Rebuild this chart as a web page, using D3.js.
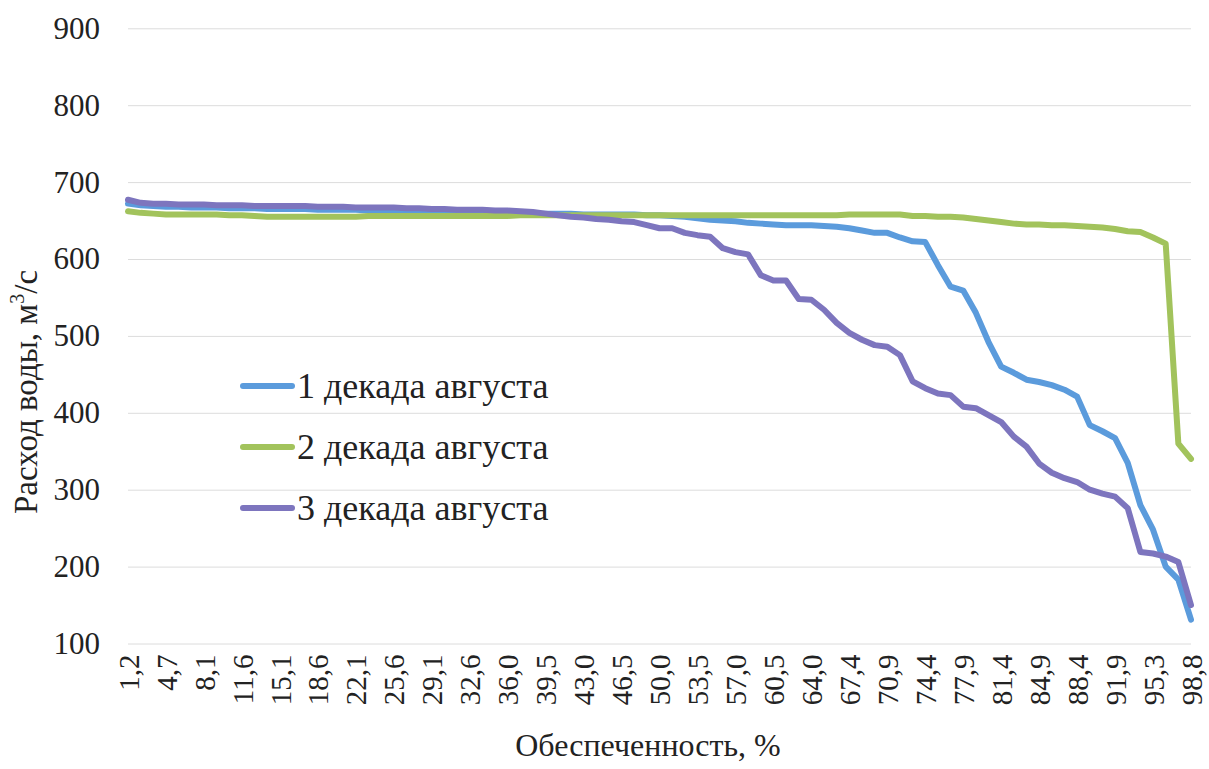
<!DOCTYPE html>
<html lang="ru">
<head>
<meta charset="UTF-8" />
<title>Расход воды</title>
<script src="https://d3js.org/d3.v7.min.js"></script>
<style>
  body { margin: 0; background: #fff; }
  .grid line { stroke: #dcdcdc; stroke-width: 1; }
</style>
</head>
<body>
<svg width="1209" height="769"></svg>
<script>
// категории: обеспеченность, %
const categories = ["1,2","2,3","3,5","4,7","5,8","7,0","8,1","9,3","10,5","11,6","12,8","14,0","15,1","16,3","17,4","18,6","19,8","20,9","22,1","23,3","24,4","25,6","26,7","27,9","29,1","30,2","31,4","32,6","33,7","34,9","36,0","37,2","38,4","39,5","40,7","41,9","43,0","44,2","45,3","46,5","47,7","48,8","50,0","51,2","52,3","53,5","54,7","55,8","57,0","58,1","59,3","60,5","61,6","62,8","64,0","65,1","66,3","67,4","68,6","69,8","70,9","72,1","73,3","74,4","75,6","76,7","77,9","79,1","80,2","81,4","82,6","83,7","84,9","86,0","87,2","88,4","89,5","90,7","91,9","93,0","94,2","95,3","96,5","97,7","98,8"];

// 1 декада августа
const dek1 = [672,670,669,668,668,667,667,667,666,666,666,665,665,665,665,664,664,664,664,663,663,663,663,662,662,662,661,661,661,660,660,660,659,659,659,659,658,658,658,658,658,657,657,656,655,653,651,650,649,647,646,645,644,644,644,643,642,640,637,634,634,628,623,622,592,564,559,530,492,460,452,443,440,436,430,421,384,376,367,335,280,248,200,183,131];

// 2 декада августа
const dek2 = [662,660,659,658,658,658,658,658,657,657,656,655,655,655,655,655,655,655,655,656,656,656,656,656,656,656,656,656,656,656,656,657,657,657,657,657,657,657,657,657,657,657,657,657,657,657,657,657,657,657,657,657,657,657,657,657,657,658,658,658,658,658,656,656,655,655,654,652,650,648,646,645,645,644,644,643,642,641,639,636,635,628,620,360,340];

// 3 декада августа
const dek3 = [677,673,672,672,671,671,671,670,670,670,669,669,669,669,669,668,668,668,667,667,667,667,666,666,665,665,664,664,664,663,663,662,661,659,657,655,654,652,651,649,648,644,640,640,634,631,629,614,609,606,579,572,572,548,547,534,517,504,495,488,486,475,441,432,425,423,408,406,397,388,369,356,334,322,315,310,300,295,291,276,219,217,213,206,150];

const yTicks = [100,200,300,400,500,600,700,800,900];
const seriesNames = ["1 декада августа","2 декада августа","3 декада августа"];
const seriesColors = ["#5b9bdc","#a2c35c","#7d75be"];
const FONT = '"Liberation Serif", "Times New Roman", serif';

const svg = d3.select("svg");
const mLeft = 128, mRight = 1191, mTop = 28.3, mBottom = 643.5;

const x = d3.scalePoint().domain(categories).range([mLeft, mRight]);
const y = d3.scaleLinear().domain([100, 900]).range([mBottom, mTop]);

// сетка
svg.append("g")
  .attr("class", "grid")
  .attr("transform", `translate(${mLeft},0)`)
  .call(d3.axisLeft(y).tickValues(yTicks).tickSize(-(mRight - mLeft)).tickFormat(""))
  .call(g => g.select(".domain").remove());

// ось Y
svg.append("g")
  .attr("transform", "translate(100,0)")
  .call(d3.axisLeft(y).tickValues(yTicks).tickSize(0).tickPadding(0))
  .call(g => g.select(".domain").remove())
  .selectAll("text")
  .style("font-family", FONT)
  .style("font-size", "31px")
  .style("fill", "#222");

// ось X, подпись каждой третьей категории
const xTicks = categories.filter((d, i) => i % 3 === 0);
svg.append("g")
  .attr("transform", `translate(0,${mBottom})`)
  .call(d3.axisBottom(x).tickValues(xTicks).tickSize(0))
  .call(g => g.select(".domain").remove())
  .selectAll("text")
  .style("font-family", FONT)
  .style("font-size", "29px")
  .style("fill", "#222")
  .attr("transform", "rotate(-90)")
  .attr("text-anchor", "end")
  .attr("dx", "-11")
  .attr("dy", "0.35em")
  .attr("y", 0);

// линии
const line = d3.line()
  .x((d, i) => x(categories[i]))
  .y(d => y(d));

[dek1, dek2, dek3].forEach((s, i) => {
  svg.append("path")
    .datum(s)
    .attr("fill", "none")
    .attr("stroke", seriesColors[i])
    .attr("stroke-width", 6)
    .attr("stroke-linejoin", "round")
    .attr("stroke-linecap", "round")
    .attr("d", line);
});

// легенда
const legend = svg.append("g");
seriesNames.forEach((name, i) => {
  const ly = 386 + i * 61;
  legend.append("line")
    .attr("x1", 243).attr("x2", 292)
    .attr("y1", ly).attr("y2", ly)
    .attr("stroke", seriesColors[i])
    .attr("stroke-width", 6)
    .attr("stroke-linecap", "round");
  legend.append("text")
    .attr("x", 297).attr("y", ly + 12)
    .style("font-family", FONT)
    .style("font-size", "36px")
    .style("fill", "#222")
    .text(name);
});

// подписи осей
svg.append("text")
  .attr("x", 648).attr("y", 756)
  .attr("text-anchor", "middle")
  .style("font-family", FONT)
  .style("font-size", "32px")
  .style("fill", "#222")
  .text("Обеспеченность, %");

const yt = svg.append("text")
  .attr("transform", "translate(37,392) rotate(-90)")
  .attr("text-anchor", "middle")
  .style("font-family", FONT)
  .style("font-size", "33px")
  .style("fill", "#222");
yt.append("tspan").text("Расход воды, м");
yt.append("tspan").style("font-size", "20px").attr("dy", -13).text("3");
yt.append("tspan").attr("dy", 13).text("/с");
</script>
</body>
</html>
